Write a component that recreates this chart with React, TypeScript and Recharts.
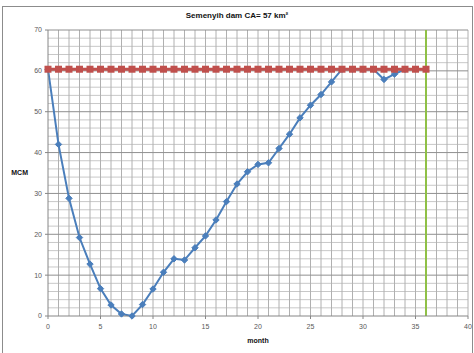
import { Line, LineChart, ReferenceLine, XAxis, YAxis } from "recharts";

const months = [
  0, 1, 2, 3, 4, 5, 6, 7, 8, 9, 10, 11, 12, 13, 14, 15, 16, 17, 18, 19, 20, 21, 22, 23, 24, 25, 26,
  27, 28, 29, 30, 31, 32, 33, 34, 35, 36,
];
const storage = [
  60.4, 42.0, 28.8, 19.2, 12.7, 6.7, 2.7, 0.5, 0, 2.8, 6.6, 10.7, 14.0, 13.7, 16.7, 19.6, 23.5,
  28.0, 32.3, 35.3, 37.1, 37.5, 41.0, 44.5, 48.5, 51.6, 54.2, 57.3, 60.4, 60.4, 60.4, 60.4, 57.9,
  59.2, 60.4,
];
const fullSupply = 60.4;
const xTicks = [0, 5, 10, 15, 20, 25, 30, 35, 40];
const yTicks = [0, 10, 20, 30, 40, 50, 60, 70];
const minorY = [
  2, 4, 6, 8, 12, 14, 16, 18, 22, 24, 26, 28, 32, 34, 36, 38, 42, 44, 46, 48, 52, 54, 56, 58, 62,
  64, 66, 68,
];
const gridX = [
  1, 2, 3, 4, 5, 6, 7, 8, 9, 10, 11, 12, 13, 14, 15, 16, 17, 18, 19, 20, 21, 22, 23, 24, 25, 26,
  27, 28, 29, 30, 31, 32, 33, 34, 35, 37, 38, 39, 40,
];
const endMonth = 36;

const data = months.map((m, i) => ({
  month: m,
  storage: i < storage.length ? storage[i] : undefined,
  full: fullSupply,
}));

const BLUE = "#4A7EBB";
const RED = "#C0504D";
const GREEN = "#8FC046";
const tick = { fontSize: 7, fill: "#595959", fontFamily: "Liberation Sans" };

function Diamond(props: any) {
  const { cx, cy, index } = props;
  if (cx == null || cy == null) return <g key={index} />;
  const s = 3.2;
  return (
    <polygon
      key={index}
      points={`${cx},${cy - s} ${cx + s},${cy} ${cx},${cy + s} ${cx - s},${cy}`}
      fill={BLUE}
      stroke={BLUE}
    />
  );
}

function Square(props: any) {
  const { cx, cy, index } = props;
  if (cx == null || cy == null) return <g key={index} />;
  return <rect key={index} x={cx - 3.5} y={cy - 3.5} width={7} height={7} fill={RED} />;
}

export default function App() {
  return (
    <div
      style={{
        position: "absolute",
        left: 0,
        top: 0,
        width: 474,
        height: 353,
        background: "#fff",
        overflow: "hidden",
        fontFamily: "Liberation Sans",
      }}
    >
      <div
        style={{
          position: "absolute",
          left: 2,
          top: 6,
          width: 469,
          height: 360,
          border: "1px solid #8c8c8c",
        }}
      />
      <div
        style={{
          position: "absolute",
          left: 0,
          top: 11,
          width: 474,
          textAlign: "center",
          fontSize: 8,
          fontWeight: "bold",
          color: "#111",
        }}
      >
        Semenyih dam CA= 57 km²
      </div>
      <div style={{ position: "absolute", left: 0, top: 0 }}>
        <LineChart width={474} height={353} data={data} margin={{ top: 30, right: 6, bottom: 17, left: 28 }}>
          <XAxis
            dataKey="month"
            type="number"
            domain={[0, 40]}
            ticks={xTicks}
            height={20}
            tick={tick}
            tickSize={3}
            tickMargin={5}
            stroke="#868686"
            label={{
              value: "month",
              position: "bottom",
              offset: 2,
              style: { fontSize: 7, fontWeight: "bold", fill: "#111", fontFamily: "Liberation Sans" },
            }}
          />
          <YAxis
            type="number"
            domain={[0, 70]}
            ticks={yTicks}
            width={20}
            tick={tick}
            tickSize={3}
            tickMargin={3}
            stroke="#868686"
            label={{
              value: "MCM",
              position: "left",
              offset: 0,
              style: { fontSize: 7, fontWeight: "bold", fill: "#111", fontFamily: "Liberation Sans" },
            }}
          />
          {minorY.map((v) => (
            <ReferenceLine key={`h${v}`} y={v} stroke="#c8c8c8" strokeWidth={1} />
          ))}
          {gridX.map((v) => (
            <ReferenceLine key={`v${v}`} x={v} stroke="#b0b0b0" strokeWidth={1} />
          ))}
          {yTicks.slice(1).map((v) => (
            <ReferenceLine key={`m${v}`} y={v} stroke="#8f8f8f" strokeWidth={1} />
          ))}
          <ReferenceLine x={endMonth} stroke={GREEN} strokeWidth={2} />
          <Line
            dataKey="storage"
            stroke={BLUE}
            strokeWidth={2}
            dot={Diamond}
            isAnimationActive={false}
            connectNulls={false}
          />
          <Line
            dataKey="full"
            stroke={RED}
            strokeWidth={3}
            dot={Square}
            isAnimationActive={false}
          />
        </LineChart>
      </div>
    </div>
  );
}
